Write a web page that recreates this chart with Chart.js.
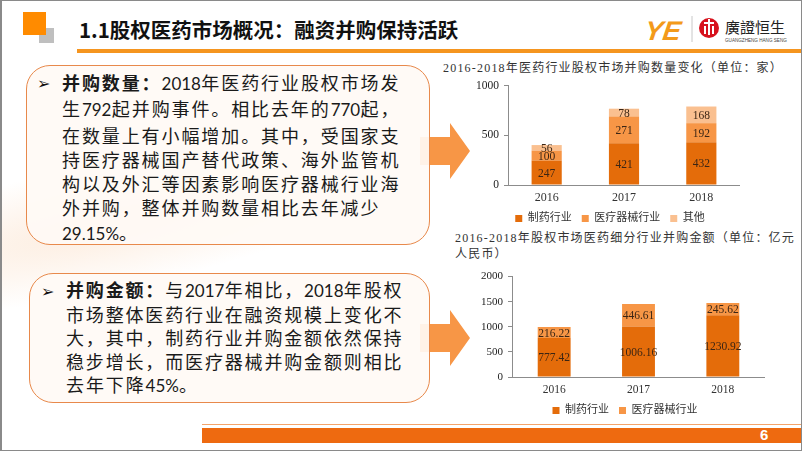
<!DOCTYPE html>
<html lang="zh">
<head>
<meta charset="UTF-8">
<title>股权医药市场概况</title>
<script src="https://cdn.jsdelivr.net/npm/chart.js"></script>
<style>
  html, body { margin: 0; padding: 0; }
  body {
    width: 802px; height: 451px; overflow: hidden; background: #fff;
    font-family: Lato, 'Noto Sans CJK SC', sans-serif;
  }
  .slide { position: relative; width: 802px; height: 451px; overflow: hidden; background: #fff; }
  .abs { position: absolute; }
  .frame {
    position: absolute; left: 0; top: 0; width: 802px; height: 451px; box-sizing: border-box;
    border: 1px solid #8a8a8a; border-left-width: 2px; pointer-events: none; z-index: 20;
  }
  /* faint background swoosh */
  .wash {
    left: -120px; top: 150px; width: 560px; height: 130px;
    background: radial-gradient(ellipse at 40% 50%, rgba(250, 215, 185, 0.45), rgba(255, 255, 255, 0) 70%);
    transform: rotate(-12deg);
  }
  .title {
    left: 79px; top: 15px; font-size: 20.5px; line-height: 28px; font-weight: bold; color: #111;
    font-family: 'Noto Sans CJK SC', sans-serif;
  }
  .hline { left: 77px; top: 49px; width: 725px; height: 4px; background: #f5951f; }
  .box {
    box-sizing: border-box; border: 1.5px solid #e8894b; border-radius: 24px;
    background: rgba(255, 250, 245, 0.92); z-index: 2;
  }
  .txt {
    z-index: 3; font-size: 18px; letter-spacing: 1.5px; color: #1a1a1a; white-space: nowrap;
    font-family: 'Noto Sans CJK SC', sans-serif;
  }
  .txt div { text-align: justify; text-align-last: justify; }
  .txt div.free { text-align-last: left; letter-spacing: 1.9px; }
  .txt .n { font-family: Lato, sans-serif; font-size: 17px; letter-spacing: 0; }
  .txt b { font-weight: bold; }
  .bullet { z-index: 3; font-family: 'DejaVu Sans', sans-serif; font-size: 16px; font-weight: bold; color: #111; }
  .ctitle {
    font-family: 'Liberation Serif', 'Noto Sans CJK SC', serif; font-size: 12px; letter-spacing: 1.2px;
    color: #333; line-height: 16px; white-space: nowrap;
  }
  .chartbox { z-index: 15; }
  .botline { left: 202px; top: 424px; width: 600px; height: 1px; background: #f4a46a; }
  .botbar { left: 202px; top: 428px; width: 600px; height: 15px; background: #ee6a10; }
  .pageno {
    left: 760px; top: 426px; font-family: 'Liberation Sans', Arial, sans-serif; font-weight: bold;
    font-size: 15px; line-height: 18px; color: #fff;
  }
</style>
</head>
<body>
<div class="slide">
  <div class="abs wash"></div>

  <!-- header -->
  <div class="abs" style="left:39px;top:28px;width:15px;height:15px;background:#bfbfbf;"></div>
  <div class="abs" style="left:23px;top:12px;width:23px;height:23px;background:#ff8b00;"></div>
  <div class="abs title">1.1股权医药市场概况：融资并购保持活跃</div>
  <div class="abs hline"></div>

  <!-- logo -->
  <svg class="abs" style="left:640px;top:10px;" width="160" height="38" viewBox="0 0 160 38">
    <text x="8" y="30" font-family="'Liberation Sans', Arial, sans-serif" font-weight="bold" font-style="italic"
          font-size="27" fill="#f39a1a" transform="skewX(-8)">YE</text>
    <line x1="52" y1="6" x2="52" y2="32" stroke="#c8c8c8" stroke-width="1"/>
    <circle cx="69" cy="18" r="10" fill="#d7121d"/>
    <rect x="64" y="12" width="10" height="2" fill="#fff"/>
    <rect x="68" y="9" width="2" height="16" fill="#fff"/>
    <rect x="64" y="16" width="2" height="8" fill="#fff"/>
    <rect x="72" y="16" width="2" height="8" fill="#fff"/>
    <text x="85" y="23" font-family="'Noto Sans CJK TC', sans-serif" font-size="15" fill="#222">廣證恒生</text>
    <text x="85" y="32" font-family="'Liberation Sans', Arial, sans-serif" font-size="4.6" fill="#444">GUANGZHENG HANG SENG</text>
  </svg>

  <!-- arrows -->
  <svg class="abs" style="left:415px;top:115px;z-index:1;" width="60" height="260">
    <polygon points="5,22 35,22 35,8 55,36 35,64 35,50 5,50" fill="#f79646"/>
    <polygon points="5,209 35,209 35,195 55,223 35,251 35,237 5,237" fill="#f79646"/>
  </svg>

  <!-- text box 1 -->
  <div class="abs box" style="left:26px;top:65px;width:404px;height:180px;"></div>
  <div class="abs bullet" style="left:37px;top:74px;">➢</div>
  <div class="abs txt" style="left:62px;top:70px;width:338px;line-height:24.3px;">
    <div><b>并购数量：</b><span class="n">2018</span>年医药行业股权市场发</div>
    <div>生<span class="n">792</span>起并购事件。相比去年的<span class="n">770</span>起，</div>
    <div>在数量上有小幅增加。其中，受国家支</div>
    <div>持医疗器械国产替代政策、海外监管机</div>
    <div>构以及外汇等因素影响医疗器械行业海</div>
    <div class="free">外并购，整体并购数量相比去年减少</div>
    <div class="free"><span class="n">29.15%</span>。</div>
  </div>

  <!-- text box 2 -->
  <div class="abs box" style="left:29px;top:273px;width:401px;height:130px;"></div>
  <div class="abs bullet" style="left:41px;top:282px;">➢</div>
  <div class="abs txt" style="left:66px;top:278px;width:337px;line-height:23.6px;">
    <div><b>并购金额：</b>与<span class="n">2017</span>年相比，<span class="n">2018</span>年股权</div>
    <div>市场整体医药行业在融资规模上变化不</div>
    <div>大，其中，制药行业并购金额依然保持</div>
    <div>稳步增长，而医疗器械并购金额则相比</div>
    <div class="free">去年下降<span class="n">45%</span>。</div>
  </div>

  <!-- chart titles -->
  <div class="abs ctitle" style="left:443px;top:60px;">2016-2018年医药行业股权市场并购数量变化（单位：家）</div>
  <div class="abs ctitle" style="left:455px;top:230px;">2016-2018年股权市场医药细分行业并购金额（单位：亿元<br>人民币）</div>

  <div class="abs chartbox" style="left:443px;top:74px;width:297px;height:160px;"><canvas id="dealChart"></canvas></div>
  <div class="abs chartbox" style="left:440px;top:265px;width:325px;height:161px;"><canvas id="amountChart"></canvas></div>

  <!-- footer -->
  <div class="abs botline"></div>
  <div class="abs botbar"></div>
  <div class="abs pageno">6</div>

  <div class="frame"></div>
</div>

<script>
  // data
  const years = ['2016', '2017', '2018'];
  const seriesNames = ['制药行业', '医疗器械行业', '其他'];
  const dealPharma = [247, 421, 432];
  const dealDevice = [100, 271, 192];
  const dealOther = [56, 78, 168];
  const amountPharma = [777.42, 1006.16, 1230.92];
  const amountDevice = [216.22, 446.61, 245.62];
  const dealTicks = [0, 500, 1000];
  const amountTicks = [0, 500, 1000, 1500, 2000];

  const colors = ['#e46c0a', '#f79646', '#fac090'];
  const serif = "'Liberation Serif', 'Noto Sans CJK SC', serif";
  const axisGrey = '#8c8c8c';

  // value labels centred in each stacked segment
  const segLabels = {
    id: 'segLabels',
    afterDatasetsDraw(chart, args, opts) {
      const ctx = chart.ctx;
      ctx.save();
      ctx.font = opts.size + "px 'Liberation Serif', serif";
      ctx.fillStyle = '#3b2514';
      ctx.textAlign = 'center';
      ctx.textBaseline = 'middle';
      chart.data.datasets.forEach((ds, i) => {
        chart.getDatasetMeta(i).data.forEach((bar, j) => {
          ctx.fillText(ds.data[j].toFixed(opts.decimals), bar.x, (bar.y + bar.base) / 2 + 1);
        });
      });
      ctx.restore();
    }
  };

  // y tick text, placed from the y scale's own ticks and pixels
  const yTickText = {
    id: 'yTickText',
    afterDraw(chart, args, opts) {
      const scale = chart.scales.y;
      const ctx = chart.ctx;
      ctx.save();
      ctx.font = opts.size + "px 'Liberation Serif', serif";
      ctx.fillStyle = '#222';
      ctx.textAlign = 'right';
      ctx.textBaseline = 'middle';
      scale.ticks.forEach(t => {
        ctx.fillText(String(t.value), scale.right - 9, scale.getPixelForValue(t.value));
      });
      ctx.restore();
    }
  };

  // the slide's legends sit a little right of the canvas centre
  const legendShift = {
    id: 'legendShift',
    afterLayout(chart, args, opts) {
      chart.legend.left += opts.dx;
      chart.legend.right += opts.dx;
    }
  };

  function makeScales(ticks, yWidth, tickSize) {
    return {
      x: {
        stacked: true,
        grid: { display: false, drawTicks: false },
        border: { color: axisGrey },
        ticks: { color: '#333', padding: 6, font: { family: serif, size: tickSize + 0.5 } },
        afterFit(axis) { axis.height = 18; }
      },
      y: {
        stacked: true,
        min: ticks[0],
        max: ticks[ticks.length - 1],
        afterBuildTicks(axis) { axis.ticks = ticks.map(v => ({ value: v })); },
        grid: { drawOnChartArea: false, tickLength: 4, color: axisGrey },
        border: { color: axisGrey },
        ticks: {
          color: 'rgba(0,0,0,0)', padding: 5, autoSkip: false, font: { family: serif, size: tickSize },
          callback: v => String(v)
        },
        afterFit(axis) { axis.width = yWidth; }
      }
    };
  }

  function makeOptions(ticks, yWidth, tickSize, decimals, dx) {
    return {
      responsive: true,
      maintainAspectRatio: false,
      animation: false,
      layout: { padding: 0 },
      scales: makeScales(ticks, yWidth, tickSize),
      plugins: {
        tooltip: { enabled: false },
        legend: {
          position: 'bottom',
          labels: { boxWidth: 7, boxHeight: 7, padding: 10, color: '#333', font: { family: serif, size: 11 } }
        },
        segLabels: { size: 11.5, decimals: decimals },
        yTickText: { size: tickSize },
        legendShift: { dx: dx }
      }
    };
  }

  function bars(label, data, color) {
    return { label: label, data: data, backgroundColor: color, borderWidth: 0, barPercentage: 0.39, categoryPercentage: 1 };
  }

  new Chart(document.getElementById('dealChart'), {
    type: 'bar',
    data: {
      labels: years,
      datasets: [
        bars(seriesNames[0], dealPharma, colors[0]),
        bars(seriesNames[1], dealDevice, colors[1]),
        bars(seriesNames[2], dealOther, colors[2])
      ]
    },
    options: makeOptions(dealTicks, 65, 11.5, 0, 18.5),
    plugins: [segLabels, yTickText, legendShift]
  });

  new Chart(document.getElementById('amountChart'), {
    type: 'bar',
    data: {
      labels: years,
      datasets: [
        bars(seriesNames[0], amountPharma, colors[0]),
        bars(seriesNames[1], amountDevice, colors[1])
      ]
    },
    options: makeOptions(amountTicks, 72, 11, 2, 22.5),
    plugins: [segLabels, yTickText, legendShift]
  });
</script>
</body>
</html>
